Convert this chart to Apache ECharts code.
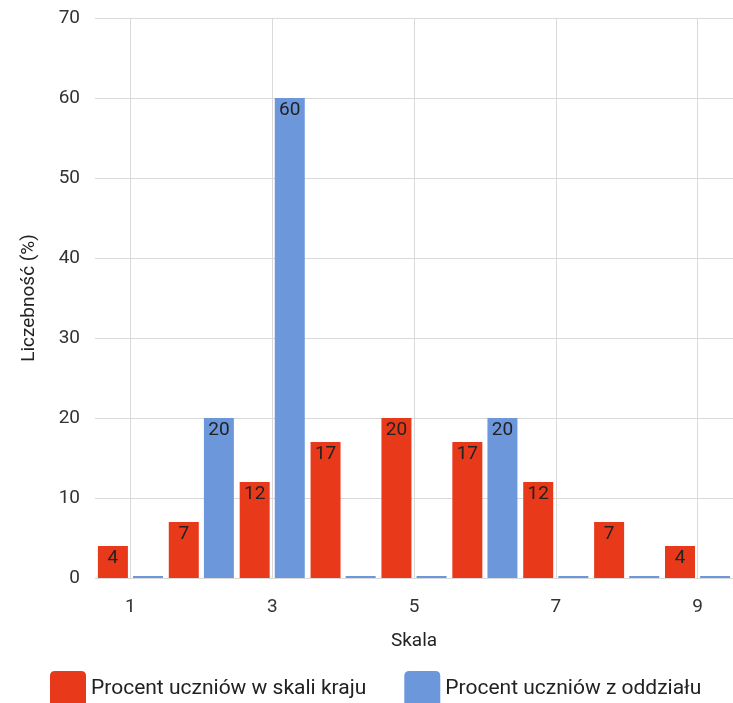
<!DOCTYPE html>
<html>
<head>
<meta charset="utf-8">
<script src="https://cdn.jsdelivr.net/npm/echarts@6/dist/echarts.min.js"></script>
<style>
html,body{margin:0;padding:0;background:#fff;}
#c{width:733px;height:703px;}
</style>
</head>
<body>
<div id="c"></div>
<script>
const categories = ['1','2','3','4','5','6','7','8','9'];
const krajValues = [4, 7, 12, 17, 20, 17, 12, 7, 4];
const oddzialValues = [0, 20, 60, 0, 0, 20, 0, 0, 0];
const gridCategories = ['1','3','5','7','9'];
const seriesNames = ['Procent uczniów w skali kraju', 'Procent uczniów z oddziału'];
const xTitle = 'Skala';
const yTitle = 'Liczebność (%)';

const font = 'Roboto, "Noto Sans", sans-serif';
const chart = echarts.init(document.getElementById('c'));
const labelCfg = {
  show: true,
  position: 'insideTop',
  distance: 3,
  color: '#222',
  fontSize: 19,
  fontFamily: font,
  formatter: p => (p.value ? String(p.value) : '')
};
const swatch = 'path://M5,0 H31 Q36,0 36,5 V36 H0 V5 Q0,0 5,0 Z';
chart.setOption({
  animation: false,
  grid: { left: 95, right: -5.5, top: 18, bottom: 125 },
  legend: {
    left: 45, top: 666,
    itemWidth: 36, itemHeight: 36, itemGap: 38,
    textStyle: { fontSize: 21, color: '#222', fontFamily: font },
    data: [
      { name: seriesNames[0], icon: swatch },
      { name: seriesNames[1], icon: swatch }
    ]
  },
  xAxis: {
    type: 'category',
    data: categories,
    boundaryGap: true,
    name: xTitle,
    nameLocation: 'middle',
    nameGap: 54,
    nameTextStyle: { fontSize: 19, color: '#222', fontFamily: font },
    axisLine: { show: false },
    axisTick: { show: false },
    axisLabel: { interval: 1, fontSize: 19, color: '#333', fontFamily: font, margin: 20 },
    splitLine: { show: false }
  },
  yAxis: {
    type: 'value',
    min: 0, max: 70, interval: 10,
    name: yTitle,
    nameLocation: 'middle',
    nameGap: 56,
    nameTextStyle: { fontSize: 19, color: '#222', fontFamily: font },
    axisLine: { show: false },
    axisTick: { show: false },
    axisLabel: { fontSize: 19, color: '#333', fontFamily: font, margin: 15 },
    splitLine: { lineStyle: { color: '#d9d9d9', width: 1 } }
  },
  series: [
    {
      name: 'grid-x',
      type: 'line',
      data: [],
      silent: true,
      z: 0,
      markLine: {
        silent: true,
        symbol: 'none',
        animation: false,
        label: { show: false },
        lineStyle: { color: '#d9d9d9', width: 1, type: 'solid' },
        data: gridCategories.map(c => ({ xAxis: c }))
      }
    },
    {
      name: seriesNames[0],
      type: 'bar',
      data: krajValues,
      barWidth: 30,
      barGap: '17%',
      itemStyle: { color: '#e9391b' },
      label: labelCfg
    },
    {
      name: seriesNames[1],
      type: 'bar',
      data: oddzialValues,
      barWidth: 30,
      barMinHeight: 2,
      itemStyle: { color: '#6d97db' },
      label: labelCfg
    }
  ]
});
</script>
</body>
</html>
